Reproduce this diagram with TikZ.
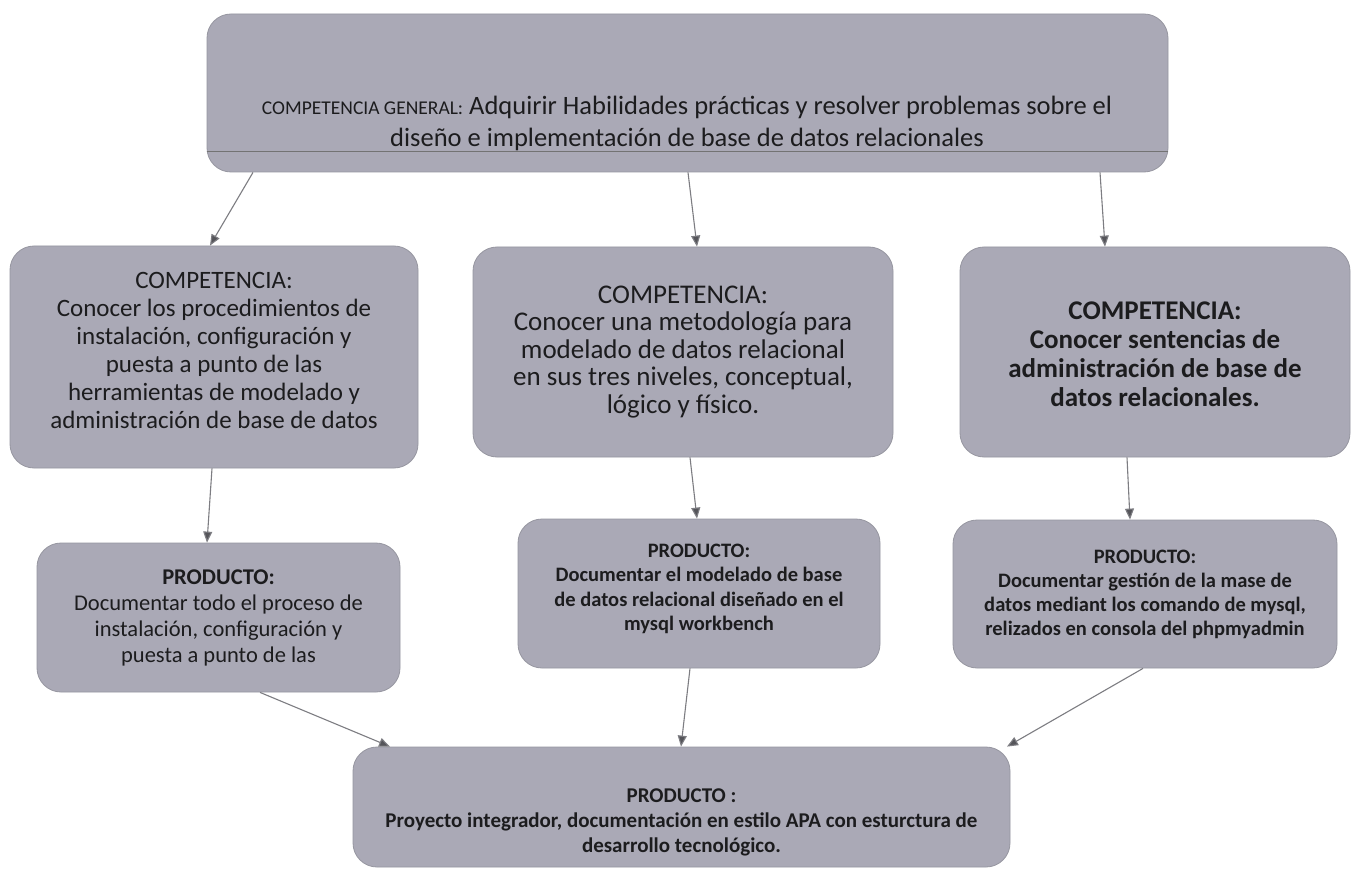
\documentclass[tikz,border=0pt]{standalone}
\usepackage{fontspec}
\setmainfont{Carlito}
\usetikzlibrary{arrows.meta,calc}
\definecolor{boxfill}{RGB}{170,169,182}
\definecolor{boxedge}{RGB}{150,150,160}
\definecolor{arrowc}{RGB}{125,125,130}
\definecolor{tipc}{RGB}{85,85,90}
\definecolor{txt}{RGB}{28,28,30}
\newcommand{\fsz}[2]{\fontsize{#1}{#2}\selectfont}
\tikzset{
  card/.style={draw=boxedge, line width=0.8pt, fill=boxfill, rounded corners=24pt,
    inner sep=0pt, text=txt, align=center},
  label/.style={text=txt, align=center, inner sep=0pt},
  conn/.style={draw=arrowc, line width=1.1pt,
    -{Triangle[length=11pt,width=9pt,fill=tipc]}},
}
\begin{document}
\begin{tikzpicture}[x=1pt,y=-1pt]
\useasboundingbox[fill=white] (0,0) rectangle (1352,877);

% top box
\node[card, minimum width=961pt, minimum height=158pt] (top) at (687.5,93) {};
\draw[black!55, line width=0.8pt] ($(top.west)+(0,58)$) -- ($(top.east)+(0,58)$);
\node[label, font=\fsz{26.5}{32}] (toptxt) at (687,123)
  {{\fsz{19.5}{32}COMPETENCIA GENERAL:} Adquirir Habilidades prácticas y resolver problemas sobre el\\
   diseño e implementación de base de datos relacionales};

% competence row
\node[card, minimum width=408pt, minimum height=222pt] (c1) at (214,357) {};
\node[label, font=\fsz{25}{28}] (c1txt) at (214,350)
  {COMPETENCIA:\\Conocer los procedimientos de\\instalación, configuración y\\puesta a punto de las\\herramientas de modelado y\\administración de base de datos};
\node[card, minimum width=420pt, minimum height=210pt, font=\fsz{27}{27.5}] (c2) at (683,352)
  {COMPETENCIA:\\Conocer una metodología para\\modelado de datos relacional\\en sus tres niveles, conceptual,\\lógico y físico.};
\node[card, minimum width=390pt, minimum height=210pt] (c3) at (1155,352) {};
\node[label, font=\bfseries\fsz{27}{29}] (c3txt) at (1155,354)
  {COMPETENCIA:\\Conocer sentencias de\\administración de base de\\datos relacionales.};

% product row
\node[card, minimum width=363pt, minimum height=149pt, font=\fsz{22.5}{26}] (p1) at (218.5,617.5)
  {\textbf{PRODUCTO:}\\Documentar todo el proceso de\\instalación, configuración y\\puesta a punto de las};
\node[card, minimum width=362pt, minimum height=149pt] (p2) at (699,593.5) {};
\node[label, font=\bfseries\fsz{20.5}{24.5}] (p2txt) at (699,589)
  {PRODUCTO:\\Documentar el modelado de base\\de datos relacional diseñado en el\\mysql workbench};
\node[card, minimum width=384pt, minimum height=148pt, font=\bfseries\fsz{20.5}{24}] (p3) at (1145,594)
  {PRODUCTO:\\Documentar gestión de la mase de\\datos mediant los comando de mysql,\\relizados en consola del phpmyadmin};

% final box
\node[card, minimum width=657pt, minimum height=120pt] (fin) at (681.5,807) {};
\node[label, font=\bfseries\fsz{21}{25}] (fintxt) at (681.5,822)
  {PRODUCTO :\\Proyecto integrador, documentación en estilo APA con esturctura de\\desarrollo tecnológico.};

% connectors
\draw[conn] ([xshift=-434.5pt]top.south) -- ([xshift=-4pt]c1.north);
\draw[conn] ([xshift=0.5pt]top.south) -- ([xshift=14pt]c2.north);
\draw[conn] ([xshift=412.5pt]top.south) -- ([xshift=-50pt]c3.north);
\draw[conn] ([xshift=-2pt]c1.south) -- ([xshift=-11.5pt]p1.north);
\draw[conn] ([xshift=7pt]c2.south) -- ([xshift=-2pt]p2.north);
\draw[conn] ([xshift=-28pt]c3.south) -- ([xshift=-15pt]p3.north);
\draw[conn] ([xshift=41.5pt]p1.south) -- ([xshift=-291.5pt]fin.north);
\draw[conn] ([xshift=-9pt]p2.south) -- ([xshift=-0.5pt]fin.north);
\draw[conn] ([xshift=-2pt]p3.south) -- ([xshift=325.5pt]fin.north);
\end{tikzpicture}
\end{document}
